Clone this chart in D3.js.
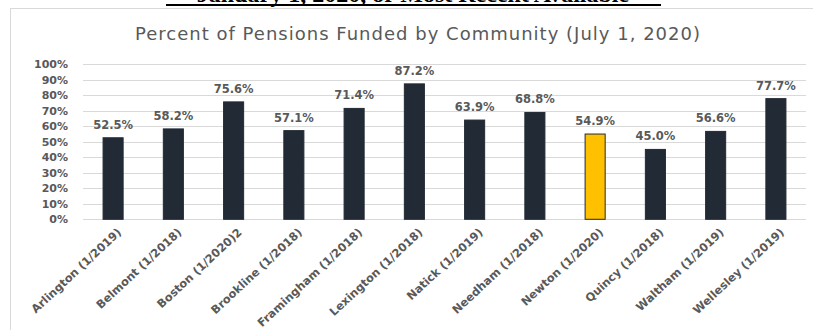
<!DOCTYPE html>
<html>
<head>
<meta charset="utf-8">
<script src="https://cdn.jsdelivr.net/npm/d3@7"></script>
<style>
  html, body { margin: 0; padding: 0; background: #fff; }
  svg { display: block; }
</style>
</head>
<body>
<svg id="chart" width="813" height="330"></svg>
<script>
// Funded ratio of each community's pension system (valuation date in parentheses)
const communities = [
  "Arlington (1/2019)", "Belmont (1/2018)", "Boston (1/2020)2", "Brookline (1/2018)",
  "Framingham (1/2018)", "Lexington (1/2018)", "Natick (1/2019)", "Needham (1/2018)",
  "Newton (1/2020)", "Quincy (1/2018)", "Waltham (1/2019)", "Wellesley (1/2019)"
];
const fundedPct = [52.5, 58.2, 75.6, 57.1, 71.4, 87.2, 63.9, 68.8, 54.9, 45.0, 56.6, 77.7];
const highlighted = ["Newton (1/2020)"];
const yTicks = [0, 10, 20, 30, 40, 50, 60, 70, 80, 90, 100];

const chartTitle = "Percent of Pensions Funded by Community (July 1, 2020)";
const headerText = "January 1, 2020, or Most Recent Available";

const svg = d3.select("#chart");
const textGray = "#595959";
const labelFont = "DejaVu Sans, Verdana, sans-serif";

// Document heading above the chart, mostly cut off by the top edge
svg.append("text")
  .attr("x", 413).attr("y", 2)
  .attr("text-anchor", "middle")
  .attr("font-family", "Liberation Serif, serif")
  .attr("font-weight", "bold")
  .attr("font-size", 24)
  .attr("fill", "#000")
  .text(headerText);
svg.append("rect")
  .attr("x", 166).attr("y", 4).attr("width", 495).attr("height", 2)
  .attr("fill", "#000");

// Chart frame
svg.append("rect")
  .attr("x", 10.5).attr("y", 8.5).attr("width", 820).attr("height", 340)
  .attr("fill", "#fff").attr("stroke", "#d9d9d9").attr("stroke-width", 1);

// Title
svg.append("text")
  .attr("x", 135).attr("y", 40)
  .attr("textLength", 565)
  .attr("lengthAdjust", "spacing")
  .attr("font-family", labelFont)
  .attr("font-size", 18)
  .attr("fill", textGray)
  .text(chartTitle);

const x = d3.scaleBand().domain(communities).range([83, 806]).paddingInner(0.667).paddingOuter(0.333);
const y = d3.scaleLinear().domain([0, 100]).range([219.3, 64]);

// Horizontal gridlines
svg.append("g")
  .selectAll("line")
  .data(yTicks)
  .join("line")
  .attr("x1", 83).attr("x2", 806)
  .attr("y1", d => Math.round(y(d)) + 0.5)
  .attr("y2", d => Math.round(y(d)) + 0.5)
  .attr("stroke", "#d9d9d9").attr("stroke-width", 1);

// Y axis labels
const yAxis = d3.axisLeft(y).tickValues(yTicks).tickFormat(d => d + "%").tickSize(0).tickPadding(15);
const gy = svg.append("g").attr("transform", "translate(83,0)").call(yAxis);
gy.select(".domain").remove();
gy.selectAll("text")
  .attr("font-family", labelFont)
  .attr("font-weight", "bold")
  .attr("font-size", 11)
  .attr("fill", textGray);

// Bars
const data = communities.map((c, i) => ({ name: c, value: fundedPct[i] }));
svg.append("g")
  .selectAll("rect")
  .data(data)
  .join("rect")
  .attr("x", d => x(d.name))
  .attr("y", d => y(d.value))
  .attr("width", x.bandwidth())
  .attr("height", d => y(0) - y(d.value))
  .attr("fill", d => highlighted.includes(d.name) ? "#ffc000" : "#222a35")
  .attr("stroke", "#222a35")
  .attr("stroke-width", 1);

// Value labels
svg.append("g")
  .selectAll("text")
  .data(data)
  .join("text")
  .attr("x", d => x(d.name) + x.bandwidth() / 2)
  .attr("y", d => y(d.value) - 9)
  .attr("text-anchor", "middle")
  .attr("font-family", labelFont)
  .attr("font-weight", "bold")
  .attr("font-size", 11.5)
  .attr("fill", textGray)
  .text(d => d.value.toFixed(1) + "%");

// Category labels, rotated
const xAxis = d3.axisBottom(x).tickSize(0).tickPadding(0);
const gx = svg.append("g").attr("transform", "translate(0,219.3)").call(xAxis);
gx.select(".domain").remove();
gx.selectAll("text")
  .attr("font-family", labelFont)
  .attr("font-weight", "bold")
  .attr("font-size", 11.4)
  .attr("fill", textGray)
  .attr("text-anchor", "end")
  .attr("dy", null)
  .attr("transform", "translate(9,14) rotate(-43)");
</script>
</body>
</html>
